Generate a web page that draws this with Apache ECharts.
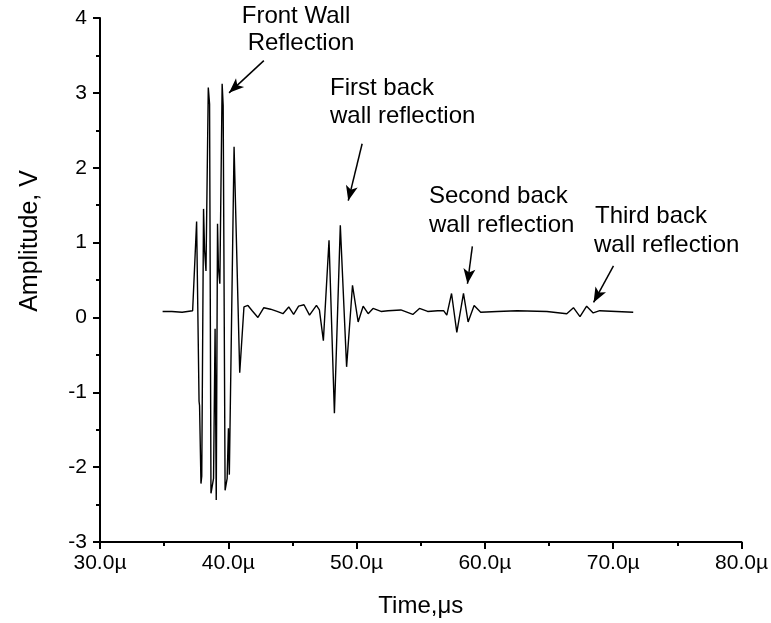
<!DOCTYPE html>
<html>
<head>
<meta charset="utf-8">
<title>Ultrasonic A-scan</title>
<script src="https://cdn.jsdelivr.net/npm/echarts@6/dist/echarts.min.js"></script>
<style>
  html, body { margin: 0; padding: 0; background: #fff; }
  #chart { width: 771px; height: 623px; }
</style>
</head>
<body>
<div id="chart"></div>
<script>
// waveform (time in µs, amplitude in V)
const timeUs = [
  34.88, 35.6, 36.4, 37.22, 37.53, 37.72, 37.76, 37.87, 37.93, 38.07,
  38.15, 38.26, 38.44, 38.54, 38.65, 38.85, 38.97, 39.06, 39.16, 39.23,
  39.34, 39.52, 39.60, 39.75, 39.91, 40.01, 40.08, 40.45, 40.89, 41.22,
  41.53, 41.86, 42.31, 42.77, 43.29, 43.80, 44.26, 44.71, 45.09, 45.48,
  45.90, 46.33, 46.87, 47.10, 47.41, 47.85, 48.27, 48.73, 49.22, 49.68,
  50.12, 50.51, 50.90, 51.28, 51.90, 52.45, 53.45, 54.38, 54.90, 55.54,
  56.32, 56.78, 57.03, 57.40, 57.81, 58.33, 58.69, 59.16, 59.67, 60.96,
  62.51, 64.83, 66.38, 66.90, 67.41, 67.93, 68.44, 68.95, 70.25, 71.56
];
const amplitude = [
  0.08, 0.08, 0.07, 0.09, 1.28, -1.12, -1.18, -2.22, -2.12, 1.45,
  0.90, 0.62, 3.07, 2.85, -2.35, -2.15, -0.15, -2.44, 1.25, 0.66,
  0.45, 3.12, 2.83, -2.31, -2.15, -1.48, -2.10, 2.28, -0.74, 0.14,
  0.16, 0.09, 0.00, 0.13, 0.11, 0.08, 0.05, 0.14, 0.04, 0.15,
  0.17, 0.03, 0.16, 0.10, -0.31, 1.03, -1.28, 1.23, -0.66, 0.43,
  -0.06, 0.15, 0.05, 0.12, 0.08, 0.09, 0.10, 0.04, 0.12, 0.08,
  0.09, 0.09, 0.03, 0.32, -0.20, 0.32, -0.06, 0.16, 0.07, 0.08,
  0.09, 0.08, 0.05, 0.13, 0.01, 0.15, 0.06, 0.09, 0.08, 0.07
];

// arrows: [tailTime, tailAmp, headTime, headAmp]
const arrows = [
  [42.77, 3.43, 40.06, 3.00],
  [50.43, 2.32, 49.35, 1.56],
  [59.02, 0.95, 58.64, 0.45],
  [70.02, 0.69, 68.47, 0.20]
];

// annotation text lines: [text, x, top, align]
const notes = [
  ['Front Wall', 296, 4, 'center'],
  ['Reflection', 301, 31, 'center'],
  ['First back', 330, 76, 'left'],
  ['wall reflection', 330, 104, 'left'],
  ['Second back', 429, 184, 'left'],
  ['wall reflection', 429, 213, 'left'],
  ['Third back', 595, 204, 'left'],
  ['wall reflection', 594, 233, 'left']
];

const FONT = "'Liberation Sans', Arial, sans-serif";

const chart = echarts.init(document.getElementById('chart'));

const texts = notes.map(n => ({
  type: 'text',
  x: n[1],
  y: n[2],
  style: { text: n[0], font: '24px ' + FONT, fill: '#000', textAlign: n[3], textVerticalAlign: 'top' }
}));
// y axis title, sits a bit above the middle of the axis in the original
texts.push({
  type: 'text',
  x: 30, y: 241,
  rotation: Math.PI / 2,
  style: { text: 'Amplitude, V', font: '25px ' + FONT, fill: '#000', textAlign: 'center', textVerticalAlign: 'middle' }
});

const option = {
  animation: false,
  backgroundColor: '#fff',
  grid: { left: 100, top: 18, width: 646, height: 524, containLabel: false },
  xAxis: {
    type: 'value',
    min: 30, max: 80, interval: 10,
    name: 'Time,\u03bcs',
    nameLocation: 'middle',
    nameGap: 52,
    nameTextStyle: { fontFamily: FONT, fontSize: 24, color: '#000' },
    axisLine: { onZero: false, lineStyle: { color: '#000', width: 2 } },
    axisTick: { inside: false, length: 7, lineStyle: { color: '#000', width: 2 } },
    minorTick: { show: true, splitNumber: 2, length: 4, lineStyle: { color: '#000', width: 2 } },
    splitLine: { show: false },
    axisLabel: {
      fontFamily: FONT,
      fontSize: 21, color: '#000', margin: 11,
      formatter: v => v.toFixed(1) + '\u00b5'
    }
  },
  yAxis: {
    type: 'value',
    min: -3, max: 4, interval: 1,
    axisLine: { show: true, lineStyle: { color: '#000', width: 2 } },
    axisTick: { show: true, inside: false, length: 7, lineStyle: { color: '#000', width: 2 } },
    minorTick: { show: true, splitNumber: 2, length: 4, lineStyle: { color: '#000', width: 2 } },
    splitLine: { show: false },
    axisLabel: { fontFamily: FONT, fontSize: 21, color: '#000', margin: 13 }
  },
  series: [{
    type: 'line',
    data: timeUs.map((t, i) => [t, amplitude[i]]),
    showSymbol: false,
    symbol: 'none',
    lineStyle: { color: '#000', width: 1.4 },
    markLine: {
      silent: true,
      symbol: ['none', 'arrow'],
      symbolSize: [9, 15],
      label: { show: false },
      lineStyle: { color: '#000', width: 1.5, type: 'solid' },
      data: arrows.map(a => [{ coord: [a[0], a[1]] }, { coord: [a[2], a[3]] }])
    }
  }],
  graphic: texts
};

chart.setOption(option);
</script>
</body>
</html>
